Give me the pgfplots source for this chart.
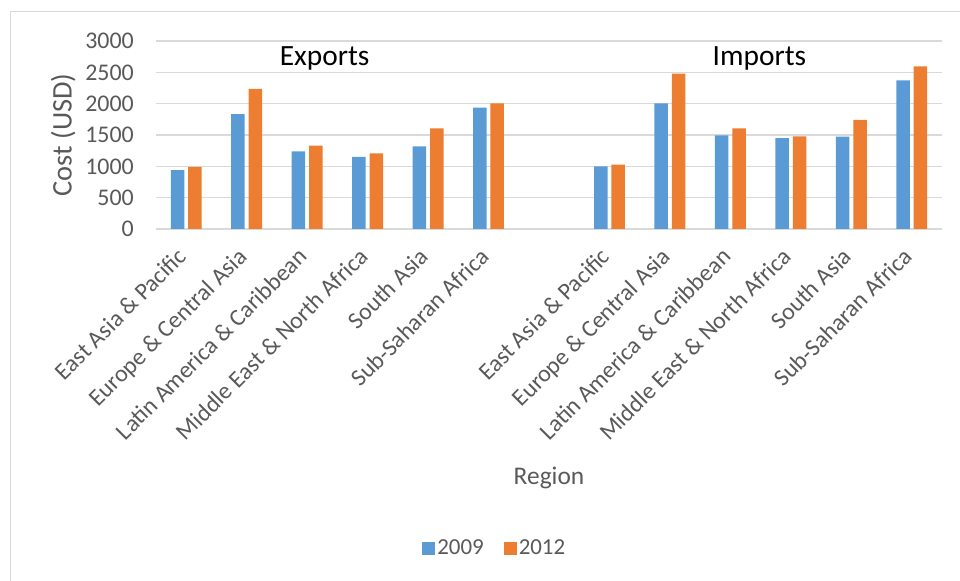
\documentclass[border=0pt]{standalone}
\usepackage{pgfplots}
\pgfplotsset{compat=1.18}
\usepackage{fontspec}
\setmainfont{Carlito}
\definecolor{c09}{HTML}{5B9BD5}
\definecolor{c12}{HTML}{ED7D31}
\definecolor{gridc}{HTML}{D9D9D9}
\definecolor{txt}{HTML}{595959}

\pgfplotstableread{
x y
0 940
1 1835
2 1240
3 1150
4 1320
5 1935
7 1000
8 2005
9 1495
10 1452
11 1473
12 2373
}\tbA
\pgfplotstableread{
x y
0 990
1 2235
2 1330
3 1208
4 1607
5 2006
7 1026
8 2478
9 1607
10 1479
11 1740
12 2596
}\tbB

\begin{document}
\begin{tikzpicture}
\path[use as bounding box] (0,0) rectangle (960bp,581bp);
\draw[gridc, line width=1.2bp] (10.5bp,0) -- (10.5bp,569.5bp) -- (960bp,569.5bp);
\begin{axis}[
  at={(156bp,352bp)}, anchor=south west,
  scale only axis, width=786bp, height=188bp,
  xmin=-0.5, xmax=12.5, ymin=0, ymax=3000,
  ytick={0,500,...,3000},
  xtick={0,...,12},
  xticklabels={East Asia \& Pacific, Europe \& Central Asia, Latin America \& Caribbean, Middle East \& North Africa, South Asia, Sub-Saharan Africa, {}, East Asia \& Pacific, Europe \& Central Asia, Latin America \& Caribbean, Middle East \& North Africa, South Asia, Sub-Saharan Africa},
  /pgf/number format/assume math mode=true,
  /pgf/number format/1000 sep={},
  x tick label style={xshift=-10bp, yshift=-17bp, rotate=45, anchor=north east, inner sep=0pt, font=\fontsize{24}{28}\selectfont, text=txt},
  y tick label style={anchor=east, inner sep=0pt, xshift=-22bp, font=\fontsize{24}{28}\selectfont, text=txt},
  ymajorgrids, major grid style={gridc, line width=1.5bp},
  axis line style={draw=none},
  major tick length=0pt,
  ylabel={Cost (USD)},
  ylabel style={at={(axis description cs:-0.118,0.5)}, anchor=center, font=\fontsize{28.5}{33}\selectfont, text=txt},
  xlabel={Region},
  xlabel style={at={(axis description cs:0.5,-1.324)}, anchor=center, font=\fontsize{25.5}{30}\selectfont, text=txt},
  legend columns=2,
  legend style={at={(axis description cs:0.431,-1.697)}, anchor=center, draw=none, fill=none, font=\fontsize{23}{28}\selectfont, text=txt, /tikz/every even column/.append style={column sep=18bp}},
  legend image code/.code={\fill[#1] (0bp,-6.5bp) rectangle (13bp,6.5bp);},
]
\addplot[ybar, bar width=13.5bp, bar shift=-8.7bp, fill=c09, draw=none] table[x=x,y=y] {\tbA};
\addplot[ybar, bar width=13.5bp, bar shift=8.7bp, fill=c12, draw=none] table[x=x,y=y] {\tbB};
\legend{2009,2012}
\node[font=\fontsize{29.5}{34}\selectfont, text=black] at (axis cs:2.29,2715) {Exports};
\node[font=\fontsize{29.5}{34}\selectfont, text=black] at (axis cs:9.48,2715) {Imports};
\end{axis}
\end{tikzpicture}
\end{document}
